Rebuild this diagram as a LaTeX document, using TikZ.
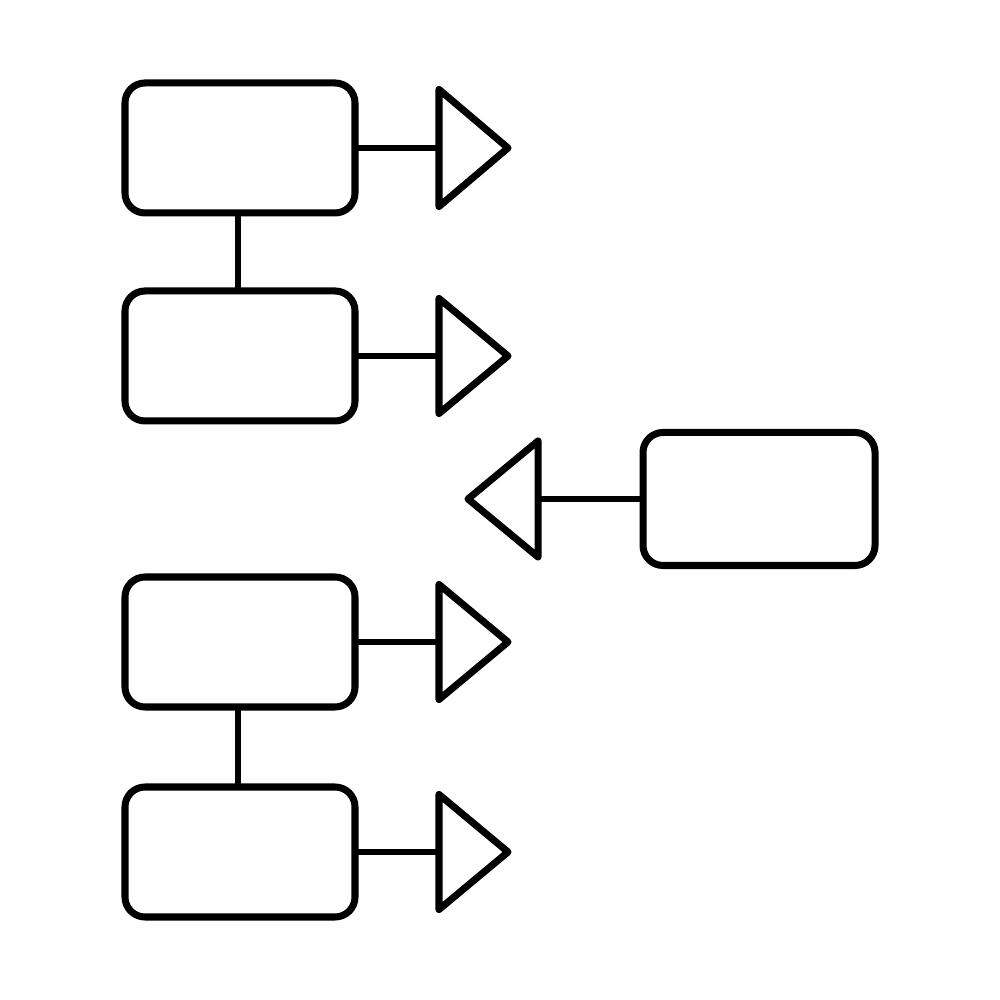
\documentclass[tikz,border=0pt]{standalone}
\usetikzlibrary{positioning,calc}

\tikzset{
  box/.style={draw, line width=2pt, rounded corners=0.2cm, minimum width=2.3cm, minimum height=1.3cm, outer sep=0pt, inner sep=0pt},
  link/.style={line width=1.8pt},
  tri/.style={line width=2pt, line join=round}
}

\begin{document}
\begin{tikzpicture}
          \useasboundingbox (0, 0) rectangle (10, 10);

          \node [box] (b1) at (2.40, 8.52) {};
          \node [box] (b2) at (2.40, 6.44) {};
          \node [box] (b3) at (2.40, 3.58) {};
          \node [box] (b4) at (2.40, 1.48) {};
          \node [box, minimum width=2.32cm, minimum height=1.33cm] (r1) at (7.59, 5.01) {};

          \coordinate (t1) at (4.39, 8.52);
          \coordinate (t2) at (4.39, 6.44);
          \coordinate (t3) at (4.39, 3.58);
          \coordinate (t4) at (4.39, 1.48);
          \coordinate (tr) at (5.38, 5.01);

          \draw [link] ($(b1.south)+(-0.02, 0)$) -- ($(b2.north)+(-0.02, 0)$);
          \draw [link] ($(b3.south)+(-0.02, 0)$) -- ($(b4.north)+(-0.02, 0)$);

          \draw [link] (b1.east) -- (t1);
          \draw [tri] (t1) -- ++(0, 0.585) -- ++(0.69, -0.585) -- ++(-0.69, -0.585) -- cycle;
          \draw [link] (b2.east) -- (t2);
          \draw [tri] (t2) -- ++(0, 0.575) -- ++(0.69, -0.575) -- ++(-0.69, -0.575) -- cycle;
          \draw [link] (b3.east) -- (t3);
          \draw [tri] (t3) -- ++(0, 0.575) -- ++(0.69, -0.575) -- ++(-0.69, -0.575) -- cycle;
          \draw [link] (b4.east) -- (t4);
          \draw [tri] (t4) -- ++(0, 0.575) -- ++(0.69, -0.575) -- ++(-0.69, -0.575) -- cycle;

          \draw [link] (r1.west) -- (tr);
          \draw [tri] (tr) -- ++(0, 0.58) -- ++(-0.70, -0.58) -- ++(0.70, -0.58) -- cycle;
        \end{tikzpicture}
\end{document}
